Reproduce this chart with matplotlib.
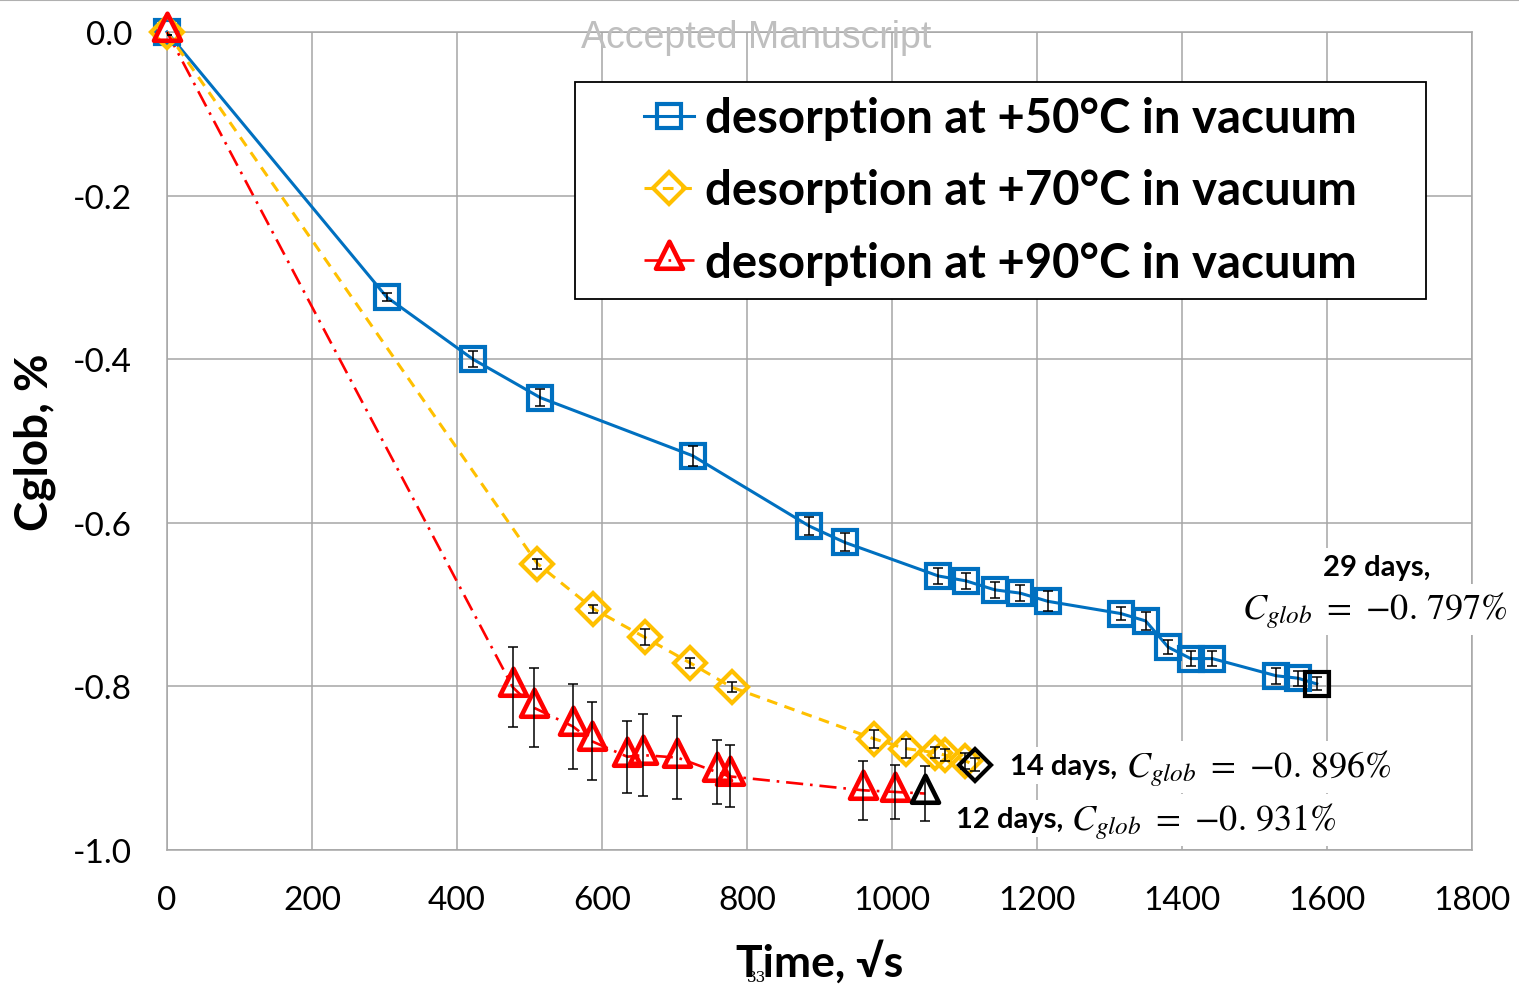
import matplotlib
matplotlib.use("Agg")
import matplotlib.pyplot as plt
from matplotlib.path import Path
from matplotlib.markers import MarkerStyle
from matplotlib.patches import Rectangle
from matplotlib.lines import Line2D

plt.rcParams['font.family'] = ['Lato', 'DejaVu Sans']
plt.rcParams['mathtext.fontset'] = 'stix'
plt.rcParams['axes.unicode_minus'] = False

# desorption at +50 C (time in sqrt(s), Cglob in %)
t50 = [0, 303, 422, 515, 725, 886, 935, 1064, 1102, 1142, 1177, 1215,
       1316, 1350, 1381, 1412, 1442, 1530, 1560, 1586]
c50 = [0.0, -0.324, -0.400, -0.447, -0.518, -0.604, -0.624, -0.665, -0.671,
       -0.682, -0.686, -0.696, -0.711, -0.720, -0.752, -0.766, -0.766,
       -0.787, -0.790, -0.797]
e50 = [0.004, 0.005, 0.010, 0.010, 0.012, 0.011, 0.011, 0.010, 0.010, 0.010,
       0.010, 0.012, 0.008, 0.011, 0.009, 0.009, 0.009, 0.010, 0.009, 0.008]

# desorption at +70 C
t70 = [0, 511, 588, 659, 721, 779, 975, 1019, 1060, 1073, 1101, 1114]
c70 = [0.0, -0.650, -0.705, -0.740, -0.771, -0.801, -0.864, -0.876, -0.881,
       -0.884, -0.891, -0.896]
e70 = [0.004, 0.006, 0.005, 0.010, 0.006, 0.006, 0.011, 0.012, 0.007, 0.007,
       0.010, 0.008]

# desorption at +90 C
t90 = [0, 477, 506, 560, 586, 635, 656, 704, 759, 776, 960, 1004, 1046]
c90 = [0.0, -0.801, -0.826, -0.849, -0.867, -0.886, -0.884, -0.887, -0.905,
       -0.910, -0.927, -0.929, -0.931]
e90 = [0.004, 0.049, 0.048, 0.052, 0.048, 0.044, 0.050, 0.051, 0.039, 0.038,
       0.036, 0.033, 0.034]

labels = ["desorption at +50°C in vacuum",
          "desorption at +70°C in vacuum",
          "desorption at +90°C in vacuum"]
xticks = [0, 200, 400, 600, 800, 1000, 1200, 1400, 1600, 1800]
yticks = [-1.0, -0.8, -0.6, -0.4, -0.2, 0.0]
ytick_labels = ["-1.0", "-0.8", "-0.6", "-0.4", "-0.2", "0.0"]

blue, yellow, red = "#0070C0", "#FFC000", "#FF0000"
gridc = "#a6a6a6"

# Excel-like triangle sits a little above its data point
tri = MarkerStyle(Path([(0, 1), (-0.72, -0.44), (0.72, -0.44), (0, 1)],
                       [Path.MOVETO, Path.LINETO, Path.LINETO, Path.CLOSEPOLY]),
                  joinstyle='miter')

fig = plt.figure(figsize=(15.19, 9.87), dpi=100)
ax = fig.add_axes([0.1099, 0.1378, 0.8591, 0.8288])


def draw(t, c, e, color, ls, lw, marker, ms, mew):
    ax.errorbar(t, c, yerr=e, fmt='none', ecolor='black', elinewidth=1.1,
                capsize=3.8, capthick=1.1, zorder=6)
    ax.plot(t, c, color=color, ls=ls, lw=lw, zorder=3, clip_on=False)
    ax.plot(t[:-1], c[:-1], ls='none', marker=marker, ms=ms, mec=color,
            mfc='none', mew=mew, zorder=5, clip_on=False)
    ax.plot(t[-1:], c[-1:], ls='none', marker=marker, ms=ms, mec='black',
            mfc='none', mew=mew, zorder=5, clip_on=False)


styles = [
    (blue, '-', 2.2, 's', 17, 3),
    (yellow, (0, (3.5, 2.5)), 2.2, 'D', 16.5, 3),
    (red, (0, (6.5, 2.6, 1.0, 2.6)), 1.9, tri, 27, 3.3),
]
draw(t50, c50, e50, *styles[0])
draw(t70, c70, e70, *styles[1])
draw(t90, c90, e90, *styles[2])

ax.set_xlim(0, 1800)
ax.set_ylim(-1.0, 0.0)
ax.set_xticks(xticks, [str(v) for v in xticks])
ax.set_yticks(yticks, ytick_labels)
ax.tick_params(length=0, labelsize=24, pad=25)
ax.grid(True, color=gridc, lw=1.1, zorder=0)
ax.set_axisbelow(True)
for s in ax.spines.values():
    s.set_color(gridc)
    s.set_linewidth(1.1)

# legend box
ax.add_patch(Rectangle((0.3126, 0.6736), 0.6522, 0.2653, transform=ax.transAxes,
                       facecolor='white', edgecolor='black', lw=1.3, zorder=7))
handles = [Line2D([], [], color=c, ls=ls, lw=lw, marker=m, ms=ms, mec=c,
                  mfc='none', mew=mew) for (c, ls, lw, m, ms, mew) in styles]
leg = ax.legend(handles, labels, loc='center', bbox_to_anchor=(0.6387, 0.8063),
                frameon=False, handlelength=1.05, handletextpad=0.23,
                labelspacing=0.6, prop={'weight': 'bold', 'size': 34})
leg.set_zorder(8)

box = dict(facecolor='white', edgecolor='none', pad=4)
ax.text(1669, -0.654, "29 days,", ha='center', va='center', fontsize=21,
        fontweight='bold', bbox=box, clip_on=False, zorder=7)
ax.text(1666, -0.706, r"$C_{glob}\ =\ {-0.\,797\%}$", ha='center', va='center',
        fontsize=26, bbox=box, clip_on=False, zorder=7)

notes = [(1163, -0.897, "14 days,", r"$C_{glob}\ =\ {-0.\,896\%}$"),
         (1088, -0.962, "12 days,", r"$C_{glob}\ =\ {-0.\,931\%}$")]
for x, y, days, formula in notes:
    t1 = ax.text(x, y, days, ha='left', va='center', fontsize=21,
                 fontweight='bold', bbox=box, zorder=7)
    ax.annotate(formula, xy=(1, 0.5), xycoords=t1, xytext=(6, -1),
                textcoords='offset points', ha='left', va='center',
                fontsize=26, bbox=box, zorder=7)

fig.text(35 / 1519, 1 - 442 / 987, "Cglob, %", rotation=90, ha='center',
         va='center', fontsize=33, fontweight='bold')
fig.text(820 / 1519, 1 - 962 / 987, "Time, √s", ha='center', va='center',
         fontsize=32, fontweight='bold')
fig.text(756 / 1519, 1 - 38 / 987, "Accepted Manuscript", ha='center',
         va='center', fontsize=27, color='#bfbfbf',
         family=['Liberation Sans Narrow', 'Liberation Sans'], zorder=10)
fig.text(756 / 1519, 1 - 978 / 987, "33", ha='center', va='center',
         fontsize=11, family='DejaVu Serif')
fig.add_artist(Line2D([0, 1], [0.999, 0.999], transform=fig.transFigure,
                      color='#b0b0b0', lw=1.5))

fig.savefig("out.png", dpi=100)
